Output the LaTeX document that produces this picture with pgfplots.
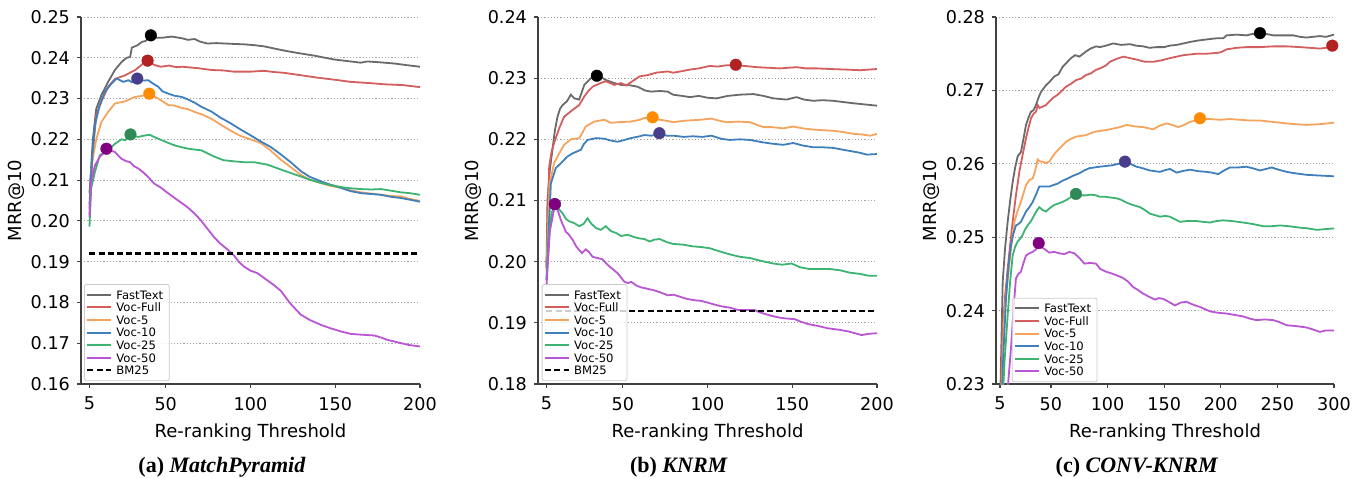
\documentclass[border=0pt]{standalone}
\usepackage{pgfplots}
\pgfplotsset{compat=1.18}
\usepackage{fontspec}
\setmainfont{DejaVu Sans}
\newfontfamily\capfont{Liberation Serif}

\definecolor{cgray}{HTML}{6A6A6A}
\definecolor{cred}{HTML}{D45E5E}
\definecolor{corange}{HTML}{F5A45E}
\definecolor{cblue}{HTML}{3F7FBC}
\definecolor{cgreen}{HTML}{3CB371}
\definecolor{cpurple}{HTML}{BA55D3}
\definecolor{mred}{HTML}{B22222}
\definecolor{morange}{HTML}{FF8C00}
\definecolor{mblue}{HTML}{483D8B}
\definecolor{mgreen}{HTML}{2E8B57}
\definecolor{mpurple}{HTML}{800080}

\pgfplotsset{
  panel/.style={
    scale only axis, width=169.5pt, height=183.5pt,
    axis lines=left, axis line style={-, black!75, line width=0.6pt},
    tick align=outside, major tick length=2pt,
    tick style={black!75, line width=0.6pt},
    ymajorgrids, grid style={dash pattern=on 0.6pt off 1pt, black!35, line width=0.45pt},
    xmin=0, xmax=200, xtick={5,50,100,150,200},
    scaled y ticks=false,
    yticklabel style={/pgf/number format/.cd, fixed, fixed zerofill, precision=2},
    /pgf/number format/assume math mode=true,
    tick label style={font=\fontsize{8.8}{10}\selectfont},
    xticklabel style={yshift=-1pt},
    label style={font=\fontsize{9}{11}\selectfont},
    xlabel={Re-ranking Threshold}, ylabel={MRR@10},
    ylabel shift=-4pt,
    legend cell align=left,
    legend image code/.code={\draw[#1, line width=1pt] (0pt,0pt) -- (12pt,0pt);},
    legend style={anchor=south west, font=\fontsize{5.8}{6}\selectfont,
      draw=black!20, rounded corners=1pt, fill=white, fill opacity=0.8,
      text opacity=1, inner xsep=1pt, inner ysep=2pt, row sep=0pt,
      nodes={inner xsep=2pt, inner ysep=1pt, text height=4.3pt, text depth=0pt}},
    every axis plot/.append style={line width=0.9pt},
  },
  pk/.style={forget plot, only marks, mark=*, mark size=2.9pt,
    mark options={draw=#1, fill=#1, line width=0.2pt}},
  bm/.style={black, line width=1.1pt, dash pattern=on 3pt off 1.6pt},
}

\begin{document}
\begin{tikzpicture}
\path[use as bounding box] (0,0) rectangle (677pt,-238.5pt);

% ---------------- (a) MatchPyramid ----------------
\begin{axis}[panel, at={(40.5pt,-192pt)}, anchor=south west,
  ymin=0.16, ymax=0.25,
  ytick={0.16,0.17,0.18,0.19,0.20,0.21,0.22,0.23,0.24,0.25},
  legend style={at={(0.009,0.008)}}]
\addplot[cgray] coordinates {(5,0.2068) (7,0.2200) (9,0.2275) (12,0.2308) (16,0.2341) (20,0.2370) (24,0.2390) (27,0.2400) (29,0.2402) (30,0.2425) (33,0.2430) (36,0.2439) (38,0.2441) (41,0.2452) (44,0.2449) (47.6,0.2449) (53.5,0.2452) (59.4,0.2448) (63,0.2444) (67,0.2446) (70,0.2440) (74.5,0.2435) (80,0.2436) (90,0.2434) (96,0.2433) (102,0.2431) (108,0.2428) (116,0.2421) (122,0.2416) (129,0.2411) (138,0.2405) (149,0.2396) (155,0.2393) (161,0.2390) (165,0.2388) (169,0.2391) (176,0.2389) (184.8,0.2386) (192,0.2382) (200,0.2378)};
\addlegendentry{FastText}
\addplot[cred] coordinates {(5,0.2030) (7,0.2170) (9,0.2259) (12,0.2292) (16,0.2329) (20,0.2348) (26,0.2357) (32,0.2370) (36.7,0.2386) (39.3,0.2391) (43.6,0.2382) (47,0.2378) (52,0.2381) (56,0.2377) (60,0.2378) (65,0.2376) (70,0.2374) (77,0.2370) (84,0.2369) (90,0.2366) (100,0.2366) (108,0.2368) (114,0.2365) (120,0.2363) (130,0.2357) (140,0.2351) (150,0.2346) (159,0.2341) (170,0.2338) (179,0.2335) (190,0.2333) (200,0.2328)};
\addlegendentry{Voc-Full}
\addplot[corange] coordinates {(5,0.2015) (6.2,0.2136) (9.1,0.2202) (12.1,0.2243) (16,0.2267) (20,0.2288) (25.9,0.2293) (31.8,0.2304) (35,0.2306) (40.3,0.2310) (43,0.2305) (45.6,0.2300) (51.5,0.2284) (55,0.2283) (59.4,0.2277) (63,0.2274) (67.2,0.2267) (72,0.2260) (77.1,0.2250) (82.4,0.2236) (88,0.2222) (94.2,0.2208) (100,0.2200) (106,0.2191) (112,0.2172) (117.9,0.2150) (124,0.2131) (129.7,0.2113) (135,0.2101) (141.5,0.2093) (147,0.2086) (153.3,0.2081) (159,0.2075) (165.2,0.2070) (171,0.2067) (177,0.2064) (183,0.2061) (188.8,0.2060) (194,0.2054) (200,0.2049)};
\addlegendentry{Voc-5}
\addplot[cblue] coordinates {(5,0.2040) (6.5,0.2150) (8.2,0.2234) (11,0.2284) (14,0.2316) (18,0.2337) (21,0.2349) (23,0.2345) (25,0.2341) (28,0.2345) (30,0.2340) (33.2,0.2347) (36,0.2344) (39.7,0.2345) (42,0.2338) (45.6,0.2329) (48,0.2318) (51.5,0.2312) (55,0.2307) (59.4,0.2304) (63,0.2298) (67,0.2290) (71,0.2280) (77,0.2268) (82.4,0.2253) (88,0.2240) (94.2,0.2224) (100,0.2210) (106,0.2195) (112,0.2181) (117.9,0.2163) (124,0.2143) (129.7,0.2122) (135,0.2108) (141.5,0.2097) (147,0.2089) (153.3,0.2081) (159,0.2073) (165.2,0.2068) (171,0.2066) (177,0.2064) (183,0.2059) (188.8,0.2056) (194,0.2052) (200,0.2047)};
\addlegendentry{Voc-10}
\addplot[cgreen] coordinates {(5,0.1986) (6,0.2080) (8.2,0.2120) (11.1,0.2161) (16,0.2173) (20,0.2189) (23.9,0.2200) (26,0.2198) (29.2,0.2210) (33.8,0.2206) (37,0.2209) (40.6,0.2211) (43,0.2206) (47.6,0.2198) (51,0.2192) (55.4,0.2185) (60,0.2180) (63.3,0.2177) (67,0.2175) (71,0.2173) (74,0.2167) (78.5,0.2158) (84,0.2149) (90.3,0.2146) (96,0.2144) (102.1,0.2144) (106,0.2141) (110,0.2138) (117.9,0.2126) (124,0.2117) (129.7,0.2109) (135,0.2101) (141.5,0.2093) (147,0.2088) (153.3,0.2083) (159,0.2080) (165.2,0.2078) (171,0.2077) (177,0.2078) (183,0.2074) (188.8,0.2070) (194,0.2068) (200,0.2064)};
\addlegendentry{Voc-25}
\addplot[cpurple] coordinates {(5,0.2010) (6,0.2095) (8.2,0.2136) (11.1,0.2157) (15,0.2173) (17.5,0.2172) (20,0.2169) (22,0.2160) (24,0.2152) (27,0.2146) (29,0.2144) (31,0.2135) (34,0.2128) (37,0.2118) (40,0.2106) (43,0.2092) (47,0.2082) (51,0.2069) (55,0.2057) (59,0.2045) (63,0.2033) (67,0.2018) (70.6,0.2002) (74,0.1984) (78.5,0.1960) (82,0.1945) (86.4,0.1930) (90.3,0.1915) (93,0.1900) (96.2,0.1888) (100,0.1878) (104,0.1872) (110,0.1854) (114,0.1842) (118,0.1828) (121,0.1811) (124,0.1795) (129.7,0.1770) (135,0.1757) (141.5,0.1745) (147,0.1737) (153.3,0.1729) (159,0.1723) (165.2,0.1721) (173,0.1719) (177,0.1714) (181,0.1708) (187,0.1702) (193,0.1696) (200,0.1692)};
\addlegendentry{Voc-50}
\addplot[bm] coordinates {(5,0.192) (200,0.192)};
\addlegendentry{BM25}
\addplot[pk=black] coordinates {(41.2,0.2455)};
\addplot[pk=mred] coordinates {(39.3,0.2393)};
\addplot[pk=mblue] coordinates {(33.2,0.2349)};
\addplot[pk=morange] coordinates {(40.3,0.2312)};
\addplot[pk=mgreen] coordinates {(29.2,0.2212)};
\addplot[pk=mpurple] coordinates {(15,0.2177)};
\end{axis}

% ---------------- (b) KNRM ----------------
\begin{axis}[panel, at={(269pt,-192pt)}, anchor=south west,
  ymin=0.18, ymax=0.24,
  ytick={0.18,0.19,0.20,0.21,0.22,0.23,0.24},
  legend style={at={(0.011,0.008)}}]
\addplot[cgray] coordinates {(5,0.1990) (5.6,0.2101) (7,0.2150) (8.5,0.2183) (10,0.2215) (11.5,0.2237) (13,0.2250) (14.5,0.2256) (17,0.2262) (19.4,0.2273) (21.4,0.2267) (24.3,0.2265) (27.3,0.2289) (31.2,0.2300) (34.7,0.2302) (37,0.2302) (40,0.2297) (45,0.2292) (49,0.2289) (52.9,0.2289) (58.8,0.2286) (63,0.2280) (66.7,0.2278) (72,0.2279) (76.5,0.2278) (79.7,0.2273) (85,0.2271) (89.5,0.2269) (95,0.2271) (100,0.2268) (105.3,0.2267) (112,0.2271) (119,0.2273) (127,0.2274) (133,0.2271) (138.8,0.2267) (146.6,0.2265) (152.5,0.2269) (157,0.2265) (162.4,0.2263) (168,0.2264) (174.2,0.2263) (180,0.2261) (186,0.2259) (193,0.2257) (200,0.2255)};
\addlegendentry{FastText}
\addplot[cred] coordinates {(5,0.1990) (6.6,0.2156) (8,0.2180) (9.5,0.2194) (12.5,0.2218) (15.4,0.2237) (20.4,0.2248) (24.3,0.2256) (27.3,0.2270) (30,0.2280) (32.2,0.2286) (36,0.2291) (40,0.2295) (45,0.2289) (49,0.2292) (52,0.2288) (56.8,0.2297) (60,0.2303) (64.7,0.2305) (69.8,0.2309) (76.5,0.2311) (79.7,0.2309) (84,0.2311) (89.5,0.2314) (95,0.2316) (101.3,0.2320) (106,0.2319) (111,0.2321) (116.7,0.2321) (122,0.2320) (129,0.2318) (136,0.2317) (142.7,0.2316) (152.5,0.2318) (158,0.2316) (164.4,0.2316) (172,0.2315) (182,0.2314) (190,0.2313) (200,0.2315)};
\addlegendentry{Voc-Full}
\addplot[corange] coordinates {(5,0.1985) (6.9,0.2128) (9.5,0.2161) (12.5,0.2177) (15.4,0.2191) (19.4,0.2200) (24.3,0.2202) (26,0.2210) (28.2,0.2221) (33.2,0.2229) (39.1,0.2232) (43,0.2227) (47,0.2228) (54.8,0.2229) (60,0.2232) (62.7,0.2235) (67.6,0.2235) (72,0.2232) (76.5,0.2230) (79.7,0.2228) (85,0.2230) (89.5,0.2231) (96,0.2232) (102.3,0.2234) (106,0.2231) (111.2,0.2228) (118,0.2229) (125,0.2228) (132.8,0.2220) (138,0.2220) (144.7,0.2218) (150.6,0.2221) (156,0.2218) (162.4,0.2216) (168,0.2215) (174.2,0.2214) (180,0.2212) (186,0.2209) (191,0.2208) (196,0.2206) (200,0.2209)};
\addlegendentry{Voc-5}
\addplot[cblue] coordinates {(5,0.1970) (7.6,0.2128) (10.5,0.2153) (13.5,0.2161) (17.4,0.2172) (20.4,0.2177) (25.3,0.2183) (27,0.2192) (29.2,0.2199) (34.2,0.2202) (39.1,0.2201) (43,0.2198) (47,0.2196) (51,0.2199) (54.8,0.2202) (60,0.2205) (62.7,0.2207) (67,0.2206) (71.6,0.2209) (76,0.2206) (79.7,0.2206) (86,0.2204) (91.5,0.2205) (97,0.2204) (102.3,0.2206) (108,0.2201) (113.1,0.2199) (119,0.2200) (125,0.2199) (132.8,0.2195) (138,0.2193) (144.7,0.2191) (150.6,0.2194) (156,0.2190) (162.4,0.2187) (168,0.2187) (174.2,0.2186) (180,0.2183) (186,0.2180) (190,0.2178) (194,0.2175) (200,0.2176)};
\addlegendentry{Voc-10}
\addplot[cgreen] coordinates {(5,0.1970) (6.5,0.2040) (8,0.2080) (10.5,0.2093) (12,0.2087) (14.5,0.2079) (16.5,0.2070) (18.4,0.2066) (21.4,0.2063) (24.3,0.2058) (27,0.2062) (29.2,0.2071) (31.5,0.2062) (34.2,0.2055) (37,0.2052) (40,0.2058) (43,0.2050) (46,0.2047) (49,0.2042) (52.9,0.2044) (57,0.2040) (60,0.2038) (62.7,0.2037) (65.9,0.2033) (68.6,0.2036) (71.8,0.2037) (76,0.2032) (79.7,0.2029) (85,0.2028) (91.5,0.2025) (96,0.2024) (101.3,0.2022) (107,0.2017) (113.1,0.2012) (119,0.2008) (125,0.2006) (132,0.2001) (138.8,0.1997) (144,0.1995) (149.6,0.1997) (154.5,0.1991) (160,0.1988) (166.3,0.1988) (172,0.1988) (178.1,0.1986) (184,0.1982) (190,0.1980) (195,0.1977) (200,0.1977)};
\addlegendentry{Voc-25}
\addplot[cpurple] coordinates {(5,0.1960) (7,0.2050) (9.9,0.2092) (11.5,0.2085) (13.5,0.2068) (16.4,0.2049) (18,0.2045) (20.4,0.2036) (22.5,0.2025) (24.3,0.2019) (26,0.2014) (28.2,0.2020) (30,0.2016) (32.2,0.2008) (35,0.2006) (38,0.2004) (41,0.1995) (44,0.1988) (47,0.1981) (51,0.1967) (53,0.1965) (55,0.1967) (58,0.1961) (60.8,0.1958) (64,0.1956) (68.7,0.1953) (72,0.1950) (76.6,0.1945) (80,0.1946) (84.5,0.1942) (88,0.1939) (92.4,0.1937) (96,0.1936) (100.2,0.1933) (104,0.1930) (108.1,0.1927) (113,0.1925) (118,0.1921) (123,0.1921) (127.8,0.1921) (131,0.1917) (135.7,0.1913) (140,0.1910) (143.6,0.1908) (147,0.1907) (151.4,0.1906) (155,0.1902) (159.3,0.1898) (165,0.1895) (171.1,0.1891) (177,0.1889) (183,0.1886) (187,0.1883) (190.9,0.1880) (195,0.1882) (200,0.1883)};
\addlegendentry{Voc-50}
\addplot[bm] coordinates {(5,0.192) (200,0.192)};
\addlegendentry{BM25}
\addplot[pk=black] coordinates {(34.7,0.2304)};
\addplot[pk=mred] coordinates {(116.7,0.2322)};
\addplot[pk=morange] coordinates {(67.6,0.2236)};
\addplot[pk=mblue] coordinates {(71.6,0.2210)};
\addplot[pk=mgreen] coordinates {(10,0.2094)};
\addplot[pk=mpurple] coordinates {(9.9,0.2094)};
\end{axis}

% ---------------- (c) CONV-KNRM ----------------
\begin{axis}[panel, at={(498pt,-192pt)}, anchor=south west, width=169pt,
  xmin=1.5, xmax=300, xtick={5,50,100,150,200,250,300},
  ymin=0.23, ymax=0.28,
  ytick={0.23,0.24,0.25,0.26,0.27,0.28},
  legend style={at={(0.047,0.005)}}]
\addplot[cgray] coordinates {(5,0.2260) (7.4,0.2439) (9.5,0.2485) (11.8,0.2521) (14,0.2550) (16.2,0.2575) (18.4,0.2595) (20.6,0.2610) (23.5,0.2616) (25.5,0.2632) (28,0.2653) (30,0.2662) (32.4,0.2671) (34.6,0.2673) (36.8,0.2680) (39,0.2690) (41.2,0.2698) (45.6,0.2707) (49,0.2712) (53,0.2719) (56.7,0.2722) (60.3,0.2732) (64,0.2738) (67.7,0.2744) (71.4,0.2748) (75.1,0.2746) (81,0.2753) (85,0.2757) (89.8,0.2760) (93.3,0.2759) (98.6,0.2761) (105,0.2764) (112,0.2762) (119.8,0.2763) (125,0.2761) (131.6,0.2760) (137,0.2758) (143.3,0.2759) (150,0.2759) (155,0.2761) (161,0.2762) (167,0.2764) (172.8,0.2766) (180,0.2768) (190.4,0.2770) (196,0.2771) (202.2,0.2771) (205.2,0.2775) (214,0.2776) (222.8,0.2775) (228,0.2777) (234.6,0.2777) (240,0.2777) (246.4,0.2775) (255,0.2775) (264,0.2775) (270,0.2773) (275.8,0.2772) (281,0.2773) (287.6,0.2774) (293,0.2773) (300,0.2776)};
\addlegendentry{FastText}
\addplot[cred] coordinates {(5,0.2250) (7.4,0.2371) (9.5,0.2420) (11.8,0.2457) (14,0.2490) (16.2,0.2521) (19,0.2556) (22.1,0.2589) (25,0.2612) (28,0.2635) (30,0.2648) (32.4,0.2662) (34.6,0.2668) (36.8,0.2671) (38.3,0.2680) (40,0.2676) (42.7,0.2678) (45.6,0.2680) (48.6,0.2685) (52,0.2690) (55.9,0.2694) (60,0.2700) (63.3,0.2705) (67.7,0.2709) (72.1,0.2714) (76.5,0.2716) (81,0.2721) (85,0.2723) (89.8,0.2728) (93.3,0.2730) (98.6,0.2734) (102.1,0.2739) (108,0.2743) (113.9,0.2746) (119.8,0.2744) (125.7,0.2742) (133,0.2739) (140.4,0.2739) (147.8,0.2741) (155.1,0.2744) (161,0.2746) (166.9,0.2748) (172.8,0.2749) (178.7,0.2750) (187.5,0.2750) (196.3,0.2751) (200,0.2752) (205.2,0.2756) (214,0.2758) (222.8,0.2759) (234.6,0.2759) (246.4,0.2760) (258.2,0.2760) (270,0.2759) (278.8,0.2758) (287.6,0.2757) (293,0.2758) (300,0.2760)};
\addlegendentry{Voc-Full}
\addplot[corange] coordinates {(5,0.2230) (8.8,0.2394) (11,0.2430) (13.2,0.2462) (15.5,0.2495) (17.7,0.2521) (20.6,0.2536) (23.5,0.2548) (25.8,0.2560) (28,0.2571) (31,0.2578) (33.9,0.2580) (36,0.2590) (38.3,0.2606) (40.5,0.2603) (42.7,0.2603) (45.6,0.2601) (48.6,0.2603) (51.5,0.2610) (54.5,0.2616) (58.9,0.2623) (63.3,0.2630) (67.7,0.2634) (72.1,0.2637) (76.5,0.2638) (81,0.2639) (85.4,0.2642) (89.8,0.2644) (94,0.2645) (98.6,0.2646) (105,0.2648) (110.9,0.2650) (116.9,0.2653) (124,0.2651) (131.6,0.2650) (140.4,0.2647) (146,0.2652) (152.2,0.2655) (157,0.2653) (162.5,0.2650) (167.7,0.2653) (172.8,0.2657) (177,0.2659) (181.6,0.2661) (190.4,0.2661) (199.3,0.2660) (208,0.2661) (217,0.2660) (225.8,0.2659) (234.6,0.2659) (246.4,0.2657) (258.2,0.2655) (266,0.2654) (275.8,0.2653) (287.6,0.2654) (294,0.2655) (300,0.2656)};
\addlegendentry{Voc-5}
\addplot[cblue] coordinates {(5,0.2220) (8,0.2340) (10.3,0.2416) (12.5,0.2460) (14.7,0.2489) (16.9,0.2505) (19.1,0.2516) (21.3,0.2518) (23.5,0.2521) (25.8,0.2528) (28,0.2535) (31,0.2541) (33.9,0.2548) (36.8,0.2558) (39.7,0.2569) (43,0.2569) (48.6,0.2569) (52,0.2571) (55.9,0.2573) (60.3,0.2577) (64.8,0.2580) (70,0.2584) (75.1,0.2587) (79.5,0.2591) (83.9,0.2594) (88.3,0.2595) (92.7,0.2596) (98.6,0.2597) (104,0.2598) (110,0.2600) (115.4,0.2602) (120,0.2600) (125.7,0.2596) (131,0.2594) (137,0.2591) (146.3,0.2589) (150,0.2591) (155.1,0.2593) (161,0.2588) (166,0.2590) (172.8,0.2592) (180,0.2590) (187.5,0.2589) (192,0.2588) (197.8,0.2586) (203,0.2591) (208.1,0.2595) (215,0.2595) (222.8,0.2596) (228,0.2594) (234.6,0.2591) (240,0.2593) (244.9,0.2595) (251,0.2592) (258.2,0.2589) (266,0.2587) (275.8,0.2585) (287.6,0.2584) (300,0.2583)};
\addlegendentry{Voc-10}
\addplot[cgreen] coordinates {(5,0.2200) (9,0.2330) (11.8,0.2394) (14,0.2440) (16.2,0.2475) (18.4,0.2487) (20.6,0.2494) (22.8,0.2498) (25,0.2503) (27,0.2510) (29.4,0.2516) (32.4,0.2522) (35.3,0.2530) (37.5,0.2536) (39.7,0.2541) (42.7,0.2537) (45.6,0.2535) (49.3,0.2540) (53,0.2544) (56.7,0.2546) (60.3,0.2548) (64,0.2551) (68,0.2555) (72.1,0.2558) (76.5,0.2557) (81,0.2557) (85.4,0.2558) (89.8,0.2557) (93.3,0.2555) (98.6,0.2555) (103,0.2554) (108,0.2553) (112,0.2551) (116.9,0.2547) (122,0.2544) (128.6,0.2541) (133,0.2537) (137.5,0.2532) (142,0.2530) (146.3,0.2528) (151,0.2529) (155.1,0.2528) (160,0.2524) (164,0.2521) (170,0.2522) (178.7,0.2522) (184,0.2521) (190.4,0.2520) (196,0.2522) (202.2,0.2523) (210,0.2522) (219.9,0.2520) (228,0.2518) (237.6,0.2515) (245,0.2515) (252.3,0.2516) (260,0.2515) (270,0.2513) (277,0.2512) (284.7,0.2510) (292,0.2511) (300,0.2512)};
\addlegendentry{Voc-25}
\addplot[cpurple] coordinates {(5,0.2150) (10,0.2260) (14.7,0.2348) (16.9,0.2400) (19.1,0.2444) (21.3,0.2450) (23.5,0.2453) (25.8,0.2465) (28,0.2475) (30.9,0.2478) (33.9,0.2480) (36.5,0.2483) (39.2,0.2490) (41,0.2487) (44.2,0.2484) (48.6,0.2479) (53,0.2480) (57.4,0.2478) (61.8,0.2477) (66.3,0.2480) (70.7,0.2478) (75,0.2472) (79.5,0.2464) (84.6,0.2465) (89.8,0.2464) (93.3,0.2457) (98.6,0.2453) (103,0.2451) (108,0.2448) (113,0.2445) (117.8,0.2440) (122.7,0.2432) (127,0.2428) (131.6,0.2423) (136.6,0.2419) (141.9,0.2415) (145.5,0.2417) (149.2,0.2416) (154,0.2412) (159.5,0.2407) (164.7,0.2411) (169.8,0.2412) (175.7,0.2408) (181.6,0.2405) (186,0.2402) (190.4,0.2399) (197.8,0.2397) (205.2,0.2396) (212.5,0.2394) (219.9,0.2392) (225.8,0.2389) (231.7,0.2387) (239,0.2388) (246.4,0.2387) (252.3,0.2384) (258.2,0.2380) (266,0.2379) (275.8,0.2377) (282,0.2374) (287.6,0.2371) (293,0.2373) (300,0.2373)};
\addlegendentry{Voc-50}
\addplot[pk=black] coordinates {(234.6,0.2778)};
\addplot[pk=mred] coordinates {(298.5,0.2761)};
\addplot[pk=morange] coordinates {(181.6,0.2662)};
\addplot[pk=mblue] coordinates {(115.4,0.2603)};
\addplot[pk=mgreen] coordinates {(72.1,0.2559)};
\addplot[pk=mpurple] coordinates {(39.2,0.2492)};
\end{axis}

\node[font=\capfont\fontsize{11}{13}\selectfont\bfseries] at (111pt,-233.5pt) {(a) \textit{MatchPyramid}};
\node[font=\capfont\fontsize{11}{13}\selectfont\bfseries] at (339.5pt,-233.5pt) {(b) \textit{KNRM}};
\node[font=\capfont\fontsize{11}{13}\selectfont\bfseries] at (568.5pt,-233.5pt) {(c) \textit{CONV-KNRM}};
\end{tikzpicture}
\end{document}
